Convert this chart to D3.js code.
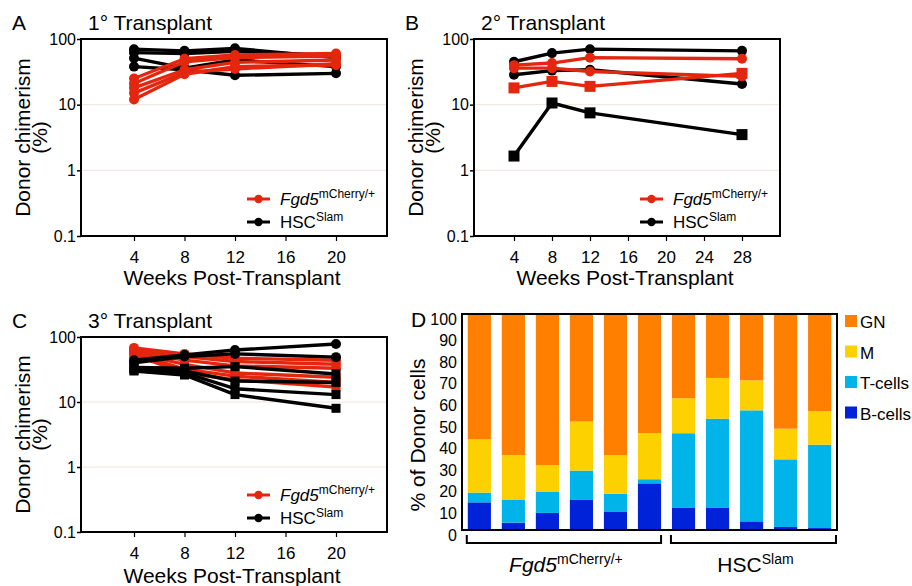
<!DOCTYPE html>
<html><head><meta charset="utf-8">
<script src="https://cdn.jsdelivr.net/npm/d3@7"></script>
<style>
body{margin:0;background:#fff;}
svg{display:block;font-family:"Liberation Sans",Arial,sans-serif;}
</style></head><body>
<svg id="c" width="912" height="586"></svg>
<script>
// ---------- DATA ----------
const yTicks = [0.1, 1, 10, 100];
// Panel A: 1° Transplant
const weeksA = [4, 8, 12, 20];
const ticksA = [4, 8, 12, 16, 20];
const fgd5A = [[25, 50, 57, 60], [21, 45, 52, 55], [18, 34, 44, 48], [15, 31, 35, 42], [12, 29, 38, 40]];
const hscA = [[70, 66, 72, 52], [62, 60, 65, 56], [51, 36, 48, 38], [38, 34, 28, 30]];
// Panel B: 2° Transplant
const weeksB = [4, 8, 12, 28];
const ticksB = [4, 8, 12, 16, 20, 24, 28];
const fgd5B_circ = [[40, 43, 52, 50], [36, 36, 32, 27]];
const fgd5B_sq = [[18, 22.6, 19, 30]];
const hscB_circ = [[45, 61, 70, 66], [28.5, 33, 34, 20.6]];
const hscB_sq = [[1.65, 10.6, 7.5, 3.5]];
// Panel C: 3° Transplant
const weeksC = [4, 8, 12, 20];
const ticksC = [4, 8, 12, 16, 20];
const fgd5C_circ = [[68, 55, 47, 44], [64, 50, 42, 38], [60, 44, 36, 33]];
const fgd5C_sq = [[57, 38, 28, 24], [55, 32, 25, 20], [53, 28, 22, 17]];
const hscC_circ = [[44, 53, 63, 78], [40, 50, 55, 49]];
const hscC_sq = [[34, 33, 35, 27], [32, 30, 21, 20], [31, 28, 16, 13], [30, 26, 13, 8]];
// Panel D: lineage composition (% of donor cells)
const mice = ["F1", "F2", "F3", "F4", "F5", "F6", "H1", "H2", "H3", "H4", "H5"];
const lineages = ["B-cells", "T-cells", "M", "GN"];
const bCells = [12.8, 3.4, 7.9, 13.9, 8.6, 21.6, 10.2, 10.2, 4.0, 1.4, 0.9];
const tCells = [4.5, 10.5, 9.7, 13.6, 8.2, 1.9, 34.6, 41.3, 51.4, 31.3, 38.6];
const mCells = [24.7, 20.8, 12.5, 22.7, 17.8, 21.4, 16.2, 18.9, 13.9, 14.2, 15.6];
const gnCells = [58.0, 65.3, 69.9, 49.8, 65.4, 55.1, 39.0, 29.6, 30.7, 53.1, 44.9];
const dTicks = [0, 10, 20, 30, 40, 50, 60, 70, 80, 90, 100];

// ---------- STYLE ----------
const RED = "#e5260f", BLACK = "#000";
const laneColors = {"GN": "#ff7f00", "M": "#fdd000", "T-cells": "#00b4e9", "B-cells": "#0022d8"};

const svg = d3.select("#c");
svg.append("rect").attr("width", 912).attr("height", 586).attr("fill", "#fff");

function supText(g, x, y, main, sup, size, supSize, italic, anchor) {
  const t = g.append("text").attr("x", x).attr("y", y).attr("font-size", size)
    .attr("text-anchor", anchor || "start").attr("fill", "#000");
  t.append("tspan").text(main).attr("font-style", italic ? "italic" : "normal");
  t.append("tspan").text(sup).attr("font-size", supSize).attr("dy", -size * 0.38);
  return t;
}

function linePanel(o) {
  const g = svg.append("g");
  const x = d3.scaleLinear().domain([4, o.lastTick]).range([o.x4, o.xLast]);
  const y = d3.scaleLog().domain([0.1, 100]).range([o.bottom, o.top]);
  // gridlines
  g.selectAll("line.grid").data([1, 10]).join("line")
    .attr("x1", o.left).attr("x2", o.right).attr("y1", d => y(d)).attr("y2", d => y(d))
    .attr("stroke", "#ebe6d8").attr("stroke-width", 1);
  // axes
  const ya = g.append("g").attr("transform", `translate(${o.left},0)`)
    .call(d3.axisLeft(y).tickValues(yTicks).tickFormat(d => d === 0.1 ? "0.1" : String(d)).tickSize(4).tickPadding(1));
  ya.select(".domain").remove();
  ya.selectAll("text").attr("font-size", 16).attr("font-family", "Liberation Sans, Arial, sans-serif").attr("fill", "#000");
  ya.selectAll("line").attr("stroke-width", 1.5);
  const xa = g.append("g").attr("transform", `translate(0,${o.bottom})`)
    .call(d3.axisBottom(x).tickValues(o.ticks).tickSize(5).tickPadding(10));
  xa.select(".domain").remove();
  xa.selectAll("text").attr("font-size", 17).attr("font-family", "Liberation Sans, Arial, sans-serif").attr("fill", "#000");
  xa.selectAll("line").attr("stroke-width", 1.2);
  // series
  const line = weeks => d3.line().x((d, i) => x(weeks[i])).y(d => y(d));
  function drawSeries(data, color, shape, size) {
    const s = g.append("g");
    data.forEach(vals => {
      s.append("path").attr("d", line(o.weeks)(vals)).attr("fill", "none")
        .attr("stroke", color).attr("stroke-width", 3.4).attr("stroke-linejoin", "round");
      vals.forEach((v, i) => {
        if (shape === "circle") {
          s.append("circle").attr("cx", x(o.weeks[i])).attr("cy", y(v)).attr("r", size / 2).attr("fill", color);
        } else {
          s.append("rect").attr("x", x(o.weeks[i]) - size / 2).attr("y", y(v) - size / 2)
            .attr("width", size).attr("height", size).attr("fill", color);
        }
      });
    });
  }
  o.series.forEach(sr => drawSeries(sr.data, sr.color, sr.shape, sr.size));
  // frame
  g.append("rect").attr("x", o.left).attr("y", o.top).attr("width", o.right - o.left).attr("height", o.bottom - o.top)
    .attr("fill", "none").attr("stroke", "#000").attr("stroke-width", 2);
  // legend
  const lx = o.right - 140;
  [[RED, o.bottom - 37, "Fgd5", "mCherry/+", true], [BLACK, o.bottom - 14, "HSC", "Slam", false]].forEach(([c, ly, m, sp, it]) => {
    g.append("line").attr("x1", lx).attr("x2", lx + 23).attr("y1", ly).attr("y2", ly).attr("stroke", c).attr("stroke-width", 3);
    g.append("circle").attr("cx", lx + 11.5).attr("cy", ly).attr("r", 4.2).attr("fill", c);
    supText(g, o.right - 107, ly + 5.5, m, sp, 17, 12, it);
  });
  // titles
  g.append("text").attr("x", o.letterX).attr("y", o.top - 9).attr("font-size", 21).text(o.letter);
  g.append("text").attr("x", o.left + 7).attr("y", o.top - 9).attr("font-size", 21).text(o.title);
  const cy = (o.top + o.bottom) / 2;
  g.append("text").attr("transform", `translate(${o.left - 51},${cy}) rotate(-90)`).attr("text-anchor", "middle")
    .attr("font-size", 21).text("Donor chimerism");
  g.append("text").attr("transform", `translate(${o.left - 34},${cy}) rotate(-90)`).attr("text-anchor", "middle")
    .attr("font-size", 21).text("(%)");
  g.append("text").attr("x", (o.left + o.right) / 2 - 2).attr("y", o.bottom + o.titleGap).attr("text-anchor", "middle")
    .attr("font-size", 21).text("Weeks Post-Transplant");
}

linePanel({left: 81, right: 387, top: 39, bottom: 236, x4: 134, xLast: 336, lastTick: 20, titleGap: 49,
  ticks: ticksA, weeks: weeksA, letter: "A", letterX: 12, title: "1° Transplant",
  series: [{data: hscA, color: BLACK, shape: "circle", size: 10}, {data: fgd5A, color: RED, shape: "circle", size: 10}]});

linePanel({left: 474, right: 780, top: 39, bottom: 236, x4: 514, xLast: 742, lastTick: 28, titleGap: 49,
  ticks: ticksB, weeks: weeksB, letter: "B", letterX: 405, title: "2° Transplant",
  series: [{data: hscB_circ, color: BLACK, shape: "circle", size: 10}, {data: hscB_sq, color: BLACK, shape: "square", size: 11},
           {data: fgd5B_circ, color: RED, shape: "circle", size: 10}, {data: fgd5B_sq, color: RED, shape: "square", size: 11}]});

linePanel({left: 81, right: 387, top: 337, bottom: 532, x4: 134, xLast: 336, lastTick: 20, titleGap: 51,
  ticks: ticksC, weeks: weeksC, letter: "C", letterX: 12, title: "3° Transplant",
  series: [{data: fgd5C_circ, color: RED, shape: "circle", size: 10}, {data: fgd5C_sq, color: RED, shape: "square", size: 9},
           {data: hscC_circ, color: BLACK, shape: "circle", size: 10}, {data: hscC_sq, color: BLACK, shape: "square", size: 9}]});

// ---------- PANEL D ----------
(function () {
  const L = 462, R = 837, T = 314, B = 530;
  const g = svg.append("g");
  const x = d3.scaleBand().domain(mice).range([L, R]).paddingInner(0.32).paddingOuter(0.17);
  const y = d3.scaleLinear().domain([0, 100]).range([B, T]);
  const table = mice.map((m, i) => ({mouse: m, "B-cells": bCells[i], "T-cells": tCells[i], "M": mCells[i], "GN": gnCells[i]}));
  const stack = d3.stack().keys(lineages)(table);
  g.selectAll("g.layer").data(stack).join("g").attr("fill", d => laneColors[d.key])
    .selectAll("rect").data(d => d).join("rect")
    .attr("x", d => x(d.data.mouse)).attr("width", x.bandwidth())
    .attr("y", d => y(Math.min(d[1], 100))).attr("height", d => y(d[0]) - y(Math.min(d[1], 100)));
  g.append("rect").attr("x", L).attr("y", T).attr("width", R - L).attr("height", B - T)
    .attr("fill", "none").attr("stroke", "#000").attr("stroke-width", 2);
  const ya = g.append("g").attr("transform", `translate(${L},5)`)
    .call(d3.axisLeft(y).tickValues(dTicks).tickSize(0).tickPadding(5));
  ya.select(".domain").remove();
  ya.selectAll("text").attr("font-size", 16).attr("font-family", "Liberation Sans, Arial, sans-serif").attr("fill", "#000");
  g.append("text").attr("x", 411).attr("y", 327).attr("font-size", 21).text("D");
  g.append("text").attr("transform", `translate(425,435) rotate(-90)`).attr("text-anchor", "middle")
    .attr("font-size", 21).text("% of Donor cells");
  // brackets
  const groups = [{first: "F1", last: "F6", main: "Fgd5", sup: "mCherry/+", it: true},
                  {first: "H1", last: "H5", main: "HSC", sup: "Slam", it: false}];
  groups.forEach((gr, k) => {
    const x0 = x(gr.first) - 1;
    const x1 = k === 0 ? x(gr.last) + x.bandwidth() : R - 1;
    g.append("path").attr("d", `M${x0},535V543H${x1}V535`).attr("fill", "none").attr("stroke", "#000").attr("stroke-width", 2);
    supText(g, (x0 + x1) / 2 + 2, 572, gr.main, gr.sup, 21, 14, gr.it, "middle");
  });
  // legend
  const legOrder = ["GN", "M", "T-cells", "B-cells"];
  legOrder.forEach((k, i) => {
    const ly = 315 + i * 30.5;
    g.append("rect").attr("x", 845).attr("y", ly).attr("width", 12).attr("height", 12).attr("fill", laneColors[k]);
    g.append("text").attr("x", 860).attr("y", ly + 13).attr("font-size", 17).text(k);
  });
})();
</script>
</body></html>
